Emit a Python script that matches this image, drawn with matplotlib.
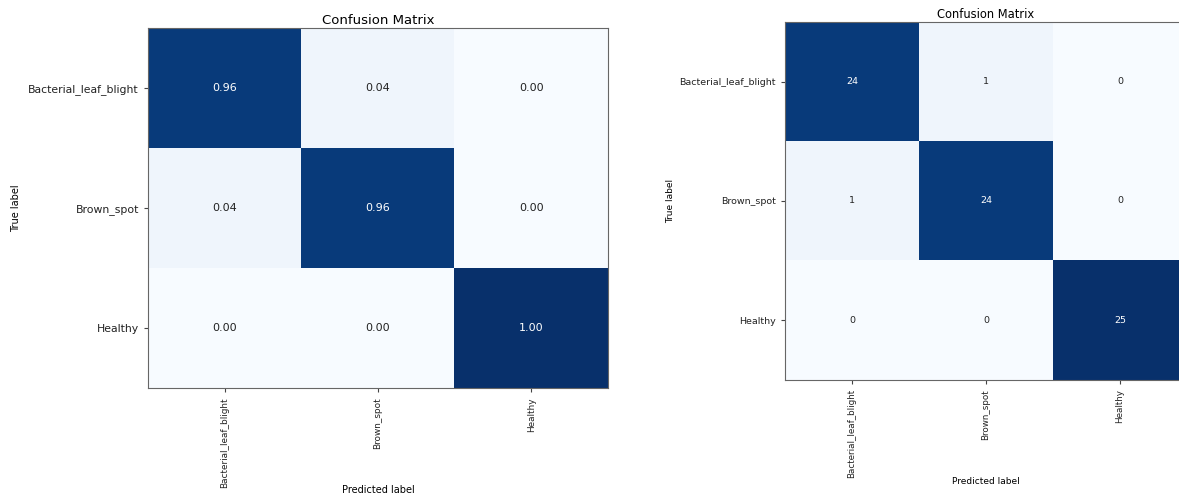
import numpy as np
import matplotlib
matplotlib.use("Agg")
import matplotlib.pyplot as plt

classes = ["Bacterial_leaf_blight", "Brown_spot", "Healthy"]

# normalized matrix (left) and raw counts (right)
cm_norm = np.array([[0.96, 0.04, 0.00],
                    [0.04, 0.96, 0.00],
                    [0.00, 0.00, 1.00]])
cm_counts = np.array([[24, 1, 0],
                      [1, 24, 0],
                      [0, 0, 25]])


def draw_cm(ax, cm, fmt, vmax, ytick_fs, xtick_fs, cell_fs, title_fs, label_fs):
    ax.imshow(cm, interpolation="nearest", cmap=plt.cm.Blues, vmin=0, vmax=vmax,
              aspect="auto")
    ax.set_title("Confusion Matrix", fontsize=title_fs, pad=3)
    ticks = np.arange(len(classes))
    ax.set_xticks(ticks)
    ax.set_xticklabels(classes, rotation=90, fontsize=xtick_fs)
    ax.set_yticks(ticks)
    ax.set_yticklabels(classes, fontsize=ytick_fs)
    thresh = cm.max() / 2.0
    for i in range(cm.shape[0]):
        for j in range(cm.shape[1]):
            ax.text(j, i, format(cm[i, j], fmt), ha="center", va="center",
                    fontsize=cell_fs,
                    color="white" if cm[i, j] > thresh else "#222222")
    ax.set_ylabel("True label", fontsize=label_fs)
    ax.set_xlabel("Predicted label", fontsize=label_fs)
    for s in ax.spines.values():
        s.set_color("#666666")
    ax.tick_params(colors="#444444", labelcolor="#222222", length=3)


fig = plt.figure(figsize=(11.79, 4.95), dpi=100)

ax1 = fig.add_axes([148 / 1179, 1 - 388 / 495, 460 / 1179, 360 / 495])
draw_cm(ax1, cm_norm, ".2f", 1.0, 7.8, 6.4, 8, 9.5, 7)
ax1.yaxis.set_label_coords(-0.275, 0.5)
ax1.xaxis.set_label_coords(0.5, -0.27)

ax2 = fig.add_axes([785 / 1179, 1 - 380 / 495, 402 / 1179, 358 / 495])
draw_cm(ax2, cm_counts, "d", 25, 6.8, 6.3, 6.8, 8.3, 6.5)
ax2.yaxis.set_label_coords(-0.274, 0.5)
ax2.xaxis.set_label_coords(0.5, -0.271)

fig.savefig("out.png", dpi=100)
